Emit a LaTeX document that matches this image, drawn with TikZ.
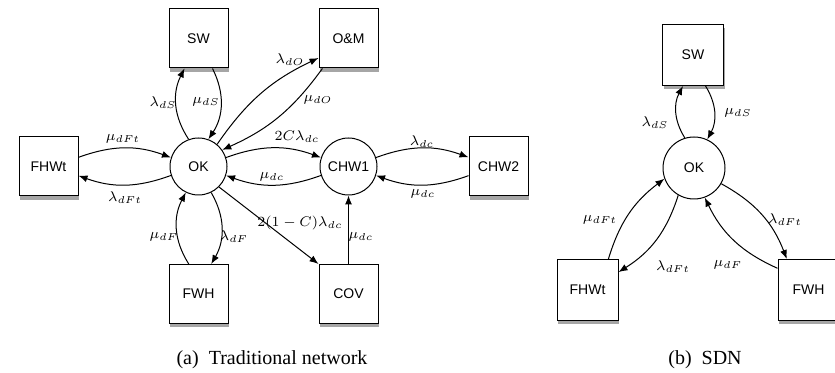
\documentclass[tikz,border=0pt]{standalone}
\usepackage[no-math]{fontspec}
\setmainfont{Liberation Serif}
\setsansfont{Liberation Sans}
\usepackage{amsmath}
\usetikzlibrary{arrows.meta, shadows}

\begin{document}
\begin{tikzpicture}[x=0.5pt,y=-0.5pt]
                    \tikzstyle{every node}=[font=\sffamily\fontsize{7}{8}\selectfont]
                    \tikzstyle{state} = [rectangle, draw=black, fill=white, line width=0.5pt, minimum size=29.5pt, inner sep=0pt, general shadow={fill=black!35, shadow xshift=0.6pt, shadow yshift=-2pt}]
                    \tikzstyle{stateb} = [state, minimum size=30.5pt]
                    \tikzstyle{hub} = [circle, draw=black, fill=white, line width=0.5pt, minimum size=28.5pt, inner sep=0pt]
                    \tikzstyle{hubb} = [hub, minimum size=31pt]
                    \tikzstyle{rate} = [font=\fontsize{7.5}{9}\selectfont, inner sep=0.5pt]
                    \tikzstyle{arrow} = [->, >={Latex[length=4.5pt,width=3.5pt]}, line width=0.5pt]
                    \tikzstyle{caption} = [font=\rmfamily\fontsize{10}{12}\selectfont]

                    \useasboundingbox (0,0) rectangle (835,373);

                    % (a) traditional network
                    \node[hub](ok) at (198.5,166.5) {OK};
                    \node[state](sw) at (198.5,38.5) {SW};
                    \node[state](om) at (348.5,38.5) {O\&M};
                    \node[state](fhwt) at (48.5,166.5) {FHWt};
                    \node[hub](chw1) at (348.5,166.5) {CHW1};
                    \node[state](chw2) at (498.5,166.5) {CHW2};
                    \node[state](fwh) at (198.5,294) {FWH};
                    \node[state](cov) at (348.5,294) {COV};

                    \draw[arrow] (ok.110) to[bend left=30] (sw.245);
                    \draw[arrow] (sw.295) to[bend left=30] (ok.70);
                    \draw[arrow] (ok.50) to[bend left=15] (om.213);
                    \draw[arrow] (om.229) to[bend left=15] (ok.35);
                    \draw[arrow] (fhwt.17) to[bend left=20] (ok.162);
                    \draw[arrow] (ok.198) to[bend left=20] (fhwt.-17);
                    \draw[arrow] (ok.18) to[bend left=20] (chw1.162);
                    \draw[arrow] (chw1.198) to[bend left=20] (ok.-18);
                    \draw[arrow] (chw1.18) to[bend left=20] (chw2.163);
                    \draw[arrow] (chw2.197) to[bend left=20] (chw1.-18);
                    \draw[arrow] (ok.-64) to[bend left=30] (fwh.67);
                    \draw[arrow] (fwh.108) to[bend left=30] (ok.-116);
                    \draw[arrow] (ok.-45) -- (cov.north west);
                    \draw[arrow] (cov.north) -- (chw1.south);

                    \node[rate](la1) at (163,103) {$\lambda_{dS}$};
                    \node[rate](la2) at (206,102) {$\mu_{dS}$};
                    \node[rate](la3) at (290,60) {$\lambda_{dO}$};
                    \node[rate](la4) at (318,100) {$\mu_{dO}$};
                    \node[rate](la5) at (123,139) {$\mu_{dFt}$};
                    \node[rate](la6) at (125,198) {$\lambda_{dFt}$};
                    \node[rate](la7) at (297,137) {$2C\lambda_{dc}$};
                    \node[rate](la8) at (272,177) {$\mu_{dc}$};
                    \node[rate](la9) at (422,142) {$\lambda_{dc}$};
                    \node[rate](la10) at (423,194) {$\mu_{dc}$};
                    \node[rate](la11) at (300,223) {$2(1-C)\lambda_{dc}$};
                    \node[rate](la12) at (361,237) {$\mu_{dc}$};
                    \node[rate](la13) at (164,237) {$\mu_{dF}$};
                    \node[rate](la14) at (234,237) {$\lambda_{dF}$};

                    \node[caption](capa) at (272,360) {(a)\ \ Traditional network};

                    % (b) SDN
                    \node[hubb](okb) at (694,168) {OK};
                    \node[stateb](swb) at (693,55) {SW};
                    \node[stateb](fhwtb) at (587.5,290) {FHWt};
                    \node[stateb](fwhb) at (808.5,290) {FWH};

                    \draw[arrow] (okb.107) to[bend left=30] (swb.252);
                    \draw[arrow] (swb.292) to[bend left=30] (okb.65);
                    \draw[arrow] (fhwtb.56) to[bend left=18] (okb.200);
                    \draw[arrow] (okb.240) to[bend left=20] (fhwtb.30);
                    \draw[arrow] (okb.-30) to[bend left=20] (fwhb.125);
                    \draw[arrow] (fwhb.145) to[bend left=20] (okb.-70);

                    \node[rate](lb1) at (655,123) {$\lambda_{dS}$};
                    \node[rate](lb2) at (738,113) {$\mu_{dS}$};
                    \node[rate](lb3) at (600,220) {$\mu_{dFt}$};
                    \node[rate](lb4) at (673,267) {$\lambda_{dFt}$};
                    \node[rate](lb5) at (785,220) {$\lambda_{dFt}$};
                    \node[rate](lb6) at (728,265) {$\mu_{dF}$};

                    \node[caption](capb) at (705,360) {(b)\ \ SDN};
\end{tikzpicture}
\end{document}
